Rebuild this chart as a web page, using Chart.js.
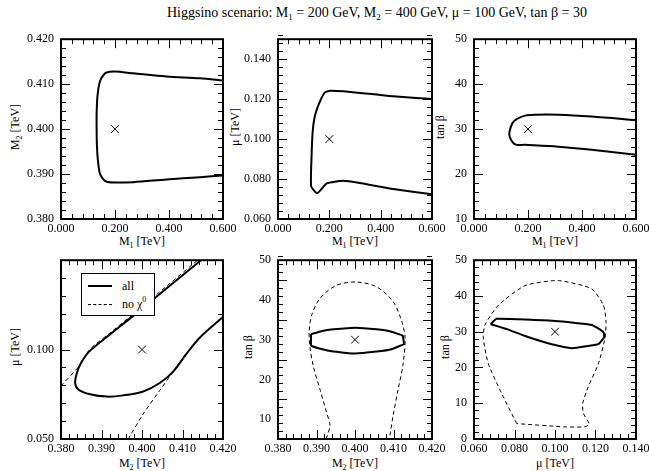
<!DOCTYPE html>
<html>
<head>
<meta charset="utf-8">
<title>Higgsino scenario</title>
<script src="https://cdn.jsdelivr.net/npm/chart.js@4.4.0/dist/chart.umd.min.js"></script>
<style>
    body { margin: 0; background: #fff; }
    #wrap { position: relative; width: 649px; height: 471px; overflow: hidden; font-family: "Liberation Serif", "Times New Roman", serif; color: #000; }
    #wrap canvas { position: absolute; }
    .t { position: absolute; white-space: nowrap; font-size: 12px; line-height: 12px; transform: translate(-50%, -50%); }
    .rot { transform: translate(-50%, -50%) rotate(-90deg); }
    sub { font-size: 8px; line-height: 0; vertical-align: -3px; }
    sup { font-size: 8px; line-height: 0; vertical-align: 6px; }
    #title { font-size: 14px; line-height: 14px; }
    #title sub { font-size: 9px; vertical-align: -3px; }
    #legend { position: absolute; left: 81px; top: 273px; width: 72px; height: 41px; border: 1px solid #000; background: #fff; font-size: 12px; }
    #legend .row { position: absolute; left: 0; height: 14px; line-height: 14px; }
    #legend .ln { position: absolute; left: 6px; width: 24px; top: 7px; }
    #legend .txt { position: absolute; left: 40px; top: 0; white-space: nowrap; }
</style>
</head>
<body>
<div id="wrap">
    <div class="t" id="title" style="left:377px; top:13px;">Higgsino scenario: M<sub>1</sub> = 200 GeV, M<sub>2</sub> = 400 GeV, &mu; = 100 GeV, tan &beta; = 30</div>

    <div class="t rot" style="left:15px; top:127px;">M<sub>2</sub> [TeV]</div>
    <div class="t rot" style="left:235px; top:127px;">&mu; [TeV]</div>
    <div class="t rot" style="left:440px; top:127px;">tan &beta;</div>
    <div class="t" style="left:142px; top:241px;">M<sub>1</sub> [TeV]</div>
    <div class="t" style="left:355px; top:241px;">M<sub>1</sub> [TeV]</div>
    <div class="t" style="left:555px; top:241px;">M<sub>1</sub> [TeV]</div>

    <div class="t rot" style="left:15px; top:347px;">&mu; [TeV]</div>
    <div class="t rot" style="left:248px; top:347px;">tan &beta;</div>
    <div class="t rot" style="left:445px; top:347px;">tan &beta;</div>
    <div class="t" style="left:142px; top:463px;">M<sub>2</sub> [TeV]</div>
    <div class="t" style="left:355px; top:463px;">M<sub>2</sub> [TeV]</div>
    <div class="t" style="left:555px; top:463px;">&mu; [TeV]</div>
</div>

<script>
// Benchmark point (TeV, tan beta)
const benchM1 = 0.200;
const benchM2 = 0.400;
const benchMu = 0.100;
const benchTanb = 30;

// Tick labels
const m1Ticks = [0.0, 0.2, 0.4, 0.6];
const m2TopTicks = [0.38, 0.39, 0.40, 0.41, 0.42];
const muTopTicks = [0.06, 0.08, 0.10, 0.12, 0.14];
const tanbTopTicks = [10, 20, 30, 40, 50];
const m2Ticks = [0.38, 0.39, 0.40, 0.41, 0.42];
const muLeftTicks = [0.05, 0.10];
const tanbMidTicks = [10, 20, 30, 40, 50];
const muTicks = [0.06, 0.08, 0.10, 0.12, 0.14];
const tanbRightTicks = [0, 10, 20, 30, 40, 50];

// Contours: [x, y]
const m1m2All = [
    [0.600, 0.4108], [0.515, 0.4113], [0.391, 0.4117], [0.268, 0.4124], [0.200, 0.4128],
    [0.169, 0.4126], [0.157, 0.4120], [0.144, 0.4106], [0.135, 0.4073], [0.132, 0.4035],
    [0.132, 0.3998], [0.133, 0.3965], [0.136, 0.3935], [0.144, 0.3901], [0.157, 0.3888],
    [0.169, 0.3883], [0.200, 0.3881], [0.268, 0.3882], [0.391, 0.3888], [0.515, 0.3893],
    [0.600, 0.3897]
];

const m1muAll = [
    [0.600, 0.1201], [0.449, 0.1214], [0.385, 0.1223], [0.254, 0.1239], [0.203, 0.1242],
    [0.183, 0.1234], [0.164, 0.1190], [0.144, 0.1117], [0.135, 0.1035], [0.131, 0.0921],
    [0.129, 0.0763], [0.153, 0.0729], [0.190, 0.0778], [0.254, 0.0791], [0.319, 0.0780],
    [0.449, 0.0750], [0.600, 0.0724]
];

const m1tanbAll = [
    [0.600, 32.0], [0.436, 32.8], [0.312, 33.2], [0.226, 33.2], [0.189, 33.0],
    [0.158, 32.2], [0.142, 31.3], [0.131, 28.6], [0.152, 26.6], [0.189, 26.5],
    [0.312, 26.1], [0.436, 25.4], [0.600, 24.3]
];

const m2muAll = [
    [0.4147, 0.1502], [0.4061, 0.1343], [0.3979, 0.1190], [0.3921, 0.1085], [0.3870, 0.0990],
    [0.3851, 0.0932], [0.3839, 0.0868], [0.3835, 0.0813], [0.3843, 0.0777], [0.3872, 0.0750],
    [0.3913, 0.0737], [0.3954, 0.0744], [0.4003, 0.0766], [0.4044, 0.0813], [0.4077, 0.0877],
    [0.4110, 0.0977], [0.4143, 0.1068], [0.4200, 0.1183]
];
const m2muNoChiUpper = [
    [0.3800, 0.0797], [0.3847, 0.0914], [0.3870, 0.0998], [0.3921, 0.1093], [0.3979, 0.1200],
    [0.4061, 0.1355], [0.4140, 0.1505]
];
const m2muNoChiLower = [
    [0.3966, 0.0500], [0.4003, 0.0640], [0.4044, 0.0772], [0.4077, 0.0877], [0.4110, 0.0977],
    [0.4143, 0.1068], [0.4200, 0.1183]
];

const m2tanbAll = [
    [0.3886, 31.4], [0.3915, 32.2], [0.3944, 32.6], [0.4000, 33.0], [0.4056, 32.6],
    [0.4095, 32.0], [0.4124, 31.0], [0.4127, 28.9], [0.4095, 27.6], [0.4056, 27.0],
    [0.4000, 26.5], [0.3944, 27.0], [0.3910, 27.7], [0.3886, 28.5], [0.3886, 31.4]
];
const m2tanbNoChi = [
    [0.3925, 5.0], [0.3935, 8.4], [0.3926, 11.7], [0.3909, 17.5], [0.3892, 23.2],
    [0.3883, 28.1], [0.3881, 32.2], [0.3888, 36.3], [0.3909, 40.4], [0.3952, 43.7],
    [0.4004, 44.5], [0.4056, 43.3], [0.4099, 39.6], [0.4121, 34.7], [0.4130, 30.6],
    [0.4125, 23.9], [0.4112, 17.5], [0.4099, 10.9], [0.4091, 6.0], [0.4089, 5.0]
];

const mutanbAll = [
    [0.0682, 32.1], [0.0712, 33.6], [0.1000, 33.0], [0.1181, 31.9], [0.1239, 29.9],
    [0.1243, 28.5], [0.1214, 26.5], [0.1164, 26.0], [0.1083, 25.4], [0.0984, 26.5],
    [0.0852, 28.8], [0.0769, 30.6], [0.0682, 32.1]
];
const mutanbNoChi = [
    [0.0811, 4.3], [0.0737, 12.7], [0.0671, 21.0], [0.0646, 28.3], [0.0654, 31.9],
    [0.0720, 37.4], [0.0852, 42.9], [0.1016, 44.3], [0.1181, 42.0], [0.1239, 37.4],
    [0.1252, 32.9], [0.1247, 28.3], [0.1214, 21.0], [0.1164, 14.6], [0.1137, 10.0],
    [0.1140, 7.2], [0.1169, 4.2], [0.1148, 3.4], [0.1049, 3.4], [0.0811, 4.3]
];

const FONT = { family: "'Liberation Serif', 'Times New Roman', serif", size: 12 };
const AXIS_W = 56, AXIS_H = 24, PAD_TOP = 10, PAD_RIGHT = 20;

// frame around the plot area with inward ticks on all four sides
const frameTicks = {
    id: 'frameTicks',
    afterDatasetsDraw(chart, args, opts) {
        const ctx = chart.ctx;
        const a = chart.chartArea;
        const sx = chart.scales.x, sy = chart.scales.y;
        const line = (x1, y1, x2, y2) => { ctx.beginPath(); ctx.moveTo(x1, y1); ctx.lineTo(x2, y2); ctx.stroke(); };
        const steps = (min, max, step) => {
            const out = [];
            const n = Math.round((max - min) / step);
            for (let i = 0; i <= n; i++) out.push(min + i * step);
            return out;
        };
        ctx.save();
        ctx.strokeStyle = '#000';
        ctx.lineWidth = 1;
        [[opts.xMinor, 5], [opts.xMajor, 9]].forEach(([step, len]) => {
            steps(sx.min, sx.max, step).forEach(v => {
                const px = Math.round(sx.getPixelForValue(v)) + 0.5;
                line(px, a.bottom, px, a.bottom - len);
                line(px, a.top, px, a.top + len);
            });
        });
        [[opts.yMinor, 5], [opts.yMajor, 9]].forEach(([step, len]) => {
            steps(sy.min, sy.max, step).forEach(v => {
                const py = Math.round(sy.getPixelForValue(v)) + 0.5;
                line(a.left, py, a.left + len, py);
                line(a.right, py, a.right - len, py);
            });
        });
        ctx.lineWidth = 2;
        ctx.strokeRect(a.left, a.top, a.right - a.left, a.bottom - a.top);
        ctx.restore();
    }
};

function toXY(arr) {
    return arr.map(p => ({ x: p[0], y: p[1] }));
}

function solid(arr, tension) {
    return { data: toXY(arr), showLine: true, borderColor: '#000', borderWidth: 2, pointRadius: 0, tension: tension, fill: false };
}

function dashed(arr, tension) {
    return { data: toXY(arr), showLine: true, borderColor: '#000', borderWidth: 1, borderDash: [4, 3], pointRadius: 0, tension: tension, fill: false };
}

function cross(x, y) {
    return { data: [{ x: x, y: y }], showLine: false, pointStyle: 'crossRot', pointRadius: 5.5, borderColor: '#000', borderWidth: 1 };
}

function axis(min, max, ticks, fmt, vertical) {
    return {
        type: 'linear',
        min: min,
        max: max,
        grid: { display: false, drawTicks: false },
        border: { display: false },
        afterBuildTicks: s => { s.ticks = ticks.map(v => ({ value: v })); },
        afterFit: s => { if (vertical) s.width = AXIS_W; else s.height = AXIS_H; },
        ticks: {
            color: '#000',
            font: FONT,
            padding: vertical ? 7 : 3,
            autoSkip: false,
            maxRotation: 0,
            callback: v => fmt(v)
        }
    };
}

const fmt3 = v => Number(v).toFixed(3);
const fmt0 = v => Number(v).toFixed(0);

function panel(box, datasets, xAxis, yAxis, tickSteps) {
    const canvas = document.createElement('canvas');
    const w = (box.r - box.l) + AXIS_W + PAD_RIGHT;
    const h = (box.b - box.t) + PAD_TOP + AXIS_H;
    canvas.width = w;
    canvas.height = h;
    canvas.style.left = (box.l - AXIS_W) + 'px';
    canvas.style.top = (box.t - PAD_TOP) + 'px';
    canvas.style.width = w + 'px';
    canvas.style.height = h + 'px';
    document.getElementById('wrap').appendChild(canvas);

    new Chart(canvas.getContext('2d'), {
        type: 'scatter',
        data: { datasets: datasets },
        options: {
            responsive: false,
            animation: false,
            devicePixelRatio: 1,
            layout: { padding: { top: PAD_TOP, right: PAD_RIGHT, left: 0, bottom: 0 } },
            plugins: {
                legend: { display: false },
                tooltip: { enabled: false },
                frameTicks: tickSteps
            },
            scales: { x: xAxis, y: yAxis }
        },
        plugins: [frameTicks]
    });
}

document.addEventListener('DOMContentLoaded', function() {
    // top row
    panel({ l: 61, t: 35, r: 223, b: 219 },
        [solid(m1m2All, 0.3), cross(benchM1, benchM2)],
        axis(0, 0.6, m1Ticks, fmt3, false), axis(0.38, 0.42, m2TopTicks, fmt3, true),
        { xMajor: 0.2, xMinor: 0.04, yMajor: 0.01, yMinor: 0.002 });

    panel({ l: 278, t: 35, r: 432, b: 219 },
        [solid(m1muAll, 0.15), cross(benchM1, benchMu)],
        axis(0, 0.6, m1Ticks, fmt3, false), axis(0.06, 0.15, muTopTicks, fmt3, true),
        { xMajor: 0.2, xMinor: 0.04, yMajor: 0.02, yMinor: 0.004 });

    panel({ l: 474, t: 35, r: 636, b: 219 },
        [solid(m1tanbAll, 0.3), cross(benchM1, benchTanb)],
        axis(0, 0.6, m1Ticks, fmt3, false), axis(10, 50, tanbTopTicks, fmt0, true),
        { xMajor: 0.2, xMinor: 0.04, yMajor: 10, yMinor: 2 });

    // bottom row
    panel({ l: 61, t: 256, r: 223, b: 439 },
        [dashed(m2muNoChiUpper, 0.3), dashed(m2muNoChiLower, 0.3), solid(m2muAll, 0.3), cross(benchM2, benchMu)],
        axis(0.38, 0.42, m2Ticks, fmt3, false), axis(0.05, 0.15, muLeftTicks, fmt3, true),
        { xMajor: 0.01, xMinor: 0.002, yMajor: 0.05, yMinor: 0.01 });

    panel({ l: 278, t: 256, r: 432, b: 439 },
        [dashed(m2tanbNoChi, 0.3), solid(m2tanbAll, 0.05), cross(benchM2, benchTanb)],
        axis(0.38, 0.42, m2Ticks, fmt3, false), axis(5, 50, tanbMidTicks, fmt0, true),
        { xMajor: 0.01, xMinor: 0.002, yMajor: 10, yMinor: 2 });

    panel({ l: 474, t: 256, r: 636, b: 439 },
        [dashed(mutanbNoChi, 0.2), solid(mutanbAll, 0.15), cross(benchMu, benchTanb)],
        axis(0.06, 0.14, muTicks, fmt3, false), axis(0, 50, tanbRightTicks, fmt0, true),
        { xMajor: 0.02, xMinor: 0.004, yMajor: 10, yMinor: 2 });

    // legend for the M2-mu panel
    const legend = document.createElement('div');
    legend.id = 'legend';
    legend.innerHTML =
        '<div class="row" style="top:5px;width:72px;"><div class="ln" style="border-top:2px solid #000;margin-top:-1px;"></div><div class="txt">all</div></div>' +
        '<div class="row" style="top:23px;width:72px;"><div class="ln" style="border-top:1px dashed #000;"></div><div class="txt">no &chi;<sup>0</sup></div></div>';
    document.getElementById('wrap').appendChild(legend);
});
</script>
</body>
</html>
